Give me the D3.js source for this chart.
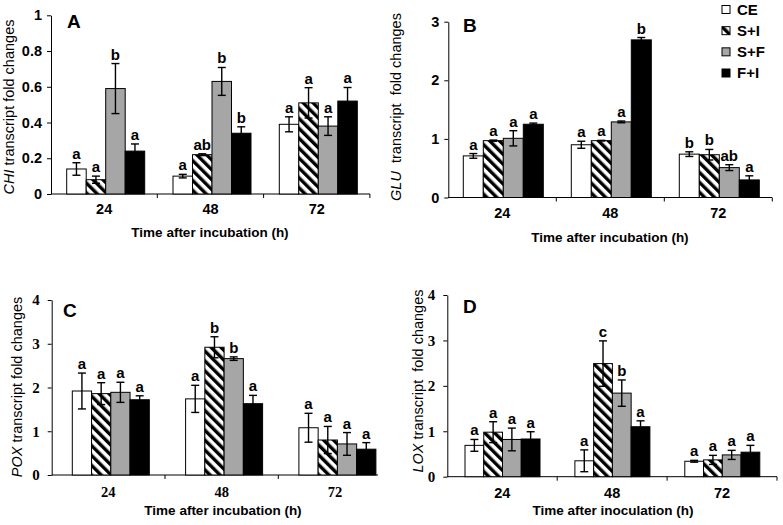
<!DOCTYPE html>
<html><head><meta charset="utf-8">
<script src="https://cdn.jsdelivr.net/npm/d3@7/dist/d3.min.js"></script>
<style>body{margin:0;background:#fff} svg{display:block}</style>
</head><body><svg id="chart" width="783" height="525"></svg>
<script>
// ---------- DATA ----------
const categories = ["24", "48", "72"];
const seriesNames = ["CE", "S+I", "S+F", "F+I"];

// Panel A: CHI (rows = series, cols = categories)
const chiValues  = [[0.14, 0.10, 0.39], [0.08, 0.22, 0.51], [0.59, 0.63, 0.38], [0.24, 0.34, 0.52]];
const chiErrors  = [[0.035, 0.01, 0.042], [0.02, 0.005, 0.085], [0.14, 0.078, 0.052], [0.04, 0.036, 0.076]];
const chiLetters = [["a", "a", "a"], ["a", "ab", "a"], ["b", "b", "a"], ["a", "b", "a"]];
const chiTicks = [0, 0.2, 0.4, 0.6, 0.8, 1];

// Panel B: GLU
const gluValues  = [[0.71, 0.90, 0.74], [0.97, 0.97, 0.73], [1.01, 1.29, 0.51], [1.25, 2.69, 0.30]];
const gluErrors  = [[0.04, 0.06, 0.04], [0.01, 0.005, 0.09], [0.13, 0.015, 0.05], [0.02, 0.04, 0.07]];
const gluLetters = [["a", "a", "b"], ["a", "a", "b"], ["a", "a", "ab"], ["a", "b", "a"]];
const gluTicks = [0, 1, 2, 3];

// Panel C: POX
const poxValues  = [[1.92, 1.74, 1.08], [1.86, 2.92, 0.80], [1.89, 2.66, 0.71], [1.72, 1.63, 0.59]];
const poxErrors  = [[0.41, 0.31, 0.33], [0.25, 0.24, 0.31], [0.23, 0.04, 0.26], [0.09, 0.19, 0.15]];
const poxLetters = [["a", "a", "a"], ["a", "b", "a"], ["a", "b", "a"], ["a", "a", "a"]];
const poxTicks = [0, 1, 2, 3, 4];

// Panel D: LOX
const loxValues  = [[0.69, 0.35, 0.34], [0.98, 2.49, 0.37], [0.82, 1.84, 0.48], [0.83, 1.10, 0.54]];
const loxErrors  = [[0.13, 0.24, 0.02], [0.23, 0.50, 0.10], [0.25, 0.29, 0.10], [0.16, 0.13, 0.15]];
const loxLetters = [["a", "a", "a"], ["a", "c", "a"], ["a", "b", "a"], ["a", "a", "a"]];
const loxTicks = [0, 1, 2, 3, 4];

// ---------- DRAW ----------
const SANS = "'Liberation Sans', Arial, sans-serif";
const SERIF = "'Liberation Serif', 'Times New Roman', serif";
const svg = d3.select("#chart");
const defs = svg.append("defs");
const pat = defs.append("pattern").attr("id", "hatch").attr("patternUnits", "userSpaceOnUse")
  .attr("width", 7).attr("height", 7).attr("patternTransform", "rotate(-45)");
pat.append("rect").attr("width", 7).attr("height", 7).attr("fill", "#fff");
pat.append("rect").attr("width", 3.4).attr("height", 7).attr("fill", "#000");

const fills = ["#ffffff", "url(#hatch)", "#a6a6a6", "#000000"];

function drawPanel(p) {
  const g = svg.append("g");
  const x = d3.scaleBand().domain(categories).range([p.left, p.left + 3 * p.band]);
  const xs = d3.scaleBand().domain(seriesNames).range([p.offset, p.offset + 4 * p.barW]);
  const y = d3.scaleLinear().domain([0, p.yMax]).range([p.bottom, p.top]);

  // y axis
  const ya = g.append("g").attr("transform", `translate(${p.left},0)`)
    .call(d3.axisLeft(y).tickValues(p.ticks).tickSizeInner(4).tickSizeOuter(0).tickPadding(p.yPad)
      .tickFormat(p.fmt));
  ya.select(".domain").attr("stroke", "#000").attr("stroke-width", 1);
  ya.selectAll(".tick line").attr("stroke", "#000");
  ya.selectAll(".tick text").attr("font-family", p.yFont).attr("font-weight", "bold")
    .attr("font-size", p.yFontSize).attr("fill", "#000");

  // x axis (labels)
  const xa = g.append("g").attr("transform", `translate(0,${p.bottom})`)
    .call(d3.axisBottom(x).tickSize(0).tickPadding(p.xPad));
  xa.select(".domain").remove();
  xa.selectAll(".tick text").attr("font-family", p.xFont).attr("font-weight", "bold")
    .attr("font-size", p.xFontSize).attr("fill", "#000");
  g.append("line").attr("x1", p.left).attr("x2", p.axisEnd).attr("y1", p.bottom).attr("y2", p.bottom)
    .attr("stroke", "#000").attr("stroke-width", 1);
  categories.forEach((c, i) => {
    const sx = x(c) + x.bandwidth();
    if (sx <= p.axisEnd + 1) {
      g.append("line").attr("x1", sx).attr("x2", sx).attr("y1", p.bottom).attr("y2", p.bottom + 4)
        .attr("stroke", "#000");
    }
  });

  // bars
  seriesNames.forEach((s, si) => {
    categories.forEach((c, ci) => {
      const v = p.values[si][ci], e = p.errors[si][ci];
      const bx = x(c) + xs(s), bw = xs.bandwidth();
      g.append("rect").attr("x", bx).attr("y", y(v)).attr("width", bw).attr("height", y(0) - y(v))
        .attr("fill", fills[si]).attr("stroke", "#000").attr("stroke-width", 1);
      const cx = bx + bw / 2;
      g.append("line").attr("x1", cx).attr("x2", cx).attr("y1", y(v + e)).attr("y2", y(Math.max(0, v - e)))
        .attr("stroke", "#000").attr("stroke-width", 1.4);
      [v + e, Math.max(0, v - e)].forEach(t => {
        g.append("line").attr("x1", cx - 4).attr("x2", cx + 4).attr("y1", y(t)).attr("y2", y(t))
          .attr("stroke", "#000").attr("stroke-width", 1.4);
      });
      g.append("text").attr("x", cx).attr("y", y(v + e) - 4).attr("text-anchor", "middle")
        .attr("font-family", SANS).attr("font-weight", "bold").attr("font-size", 15)
        .text(p.letters[si][ci]);
    });
  });

  // panel letter
  g.append("text").attr("x", p.letterX).attr("y", p.letterY).attr("font-family", SANS)
    .attr("font-weight", "bold").attr("font-size", 19).text(p.letter);

  // x title
  g.append("text").attr("x", p.xTitleX).attr("y", p.xTitleY).attr("text-anchor", "middle")
    .attr("font-family", SANS).attr("font-weight", "bold").attr("font-size", 13.5)
    .text(p.xTitle);

  // y title
  const yt = g.append("text").attr("transform", `translate(${p.yTitleX},${p.yTitleY}) rotate(-90)`)
    .attr("text-anchor", "middle").attr("font-family", SANS).attr("font-size", 14.5)
    .style("white-space", "pre");
  yt.append("tspan").attr("font-style", "italic").text(p.gene);
  yt.append("tspan").text(p.yTitleRest);
}

const fmtA = d => d === 0 ? "0" : (d === 1 ? "1" : d3.format(".1f")(d));
const fmtI = d3.format("d");

drawPanel({ left: 51, band: 106.3, offset: 15.7, barW: 19.5, axisEnd: 370, top: 15.3, bottom: 194, yMax: 1,
  ticks: chiTicks, fmt: fmtA, yPad: 5, yFont: SANS, yFontSize: 14.5, xFont: SANS, xFontSize: 14.5, xPad: 10,
  values: chiValues, errors: chiErrors, letters: chiLetters,
  letter: "A", letterX: 67, letterY: 28, xTitle: "Time after incubation (h)", xTitleX: 210, xTitleY: 237,
  gene: "CHI", yTitleRest: " transcript fold changes", yTitleX: 14, yTitleY: 107 });

drawPanel({ left: 448.3, band: 108, offset: 15, barW: 20, axisEnd: 772, top: 21.7, bottom: 197.5, yMax: 3,
  ticks: gluTicks, fmt: fmtI, yPad: 5, yFont: SANS, yFontSize: 14.5, xFont: SANS, xFontSize: 14.5, xPad: 10,
  values: gluValues, errors: gluErrors, letters: gluLetters,
  letter: "B", letterX: 463, letterY: 32, xTitle: "Time after incubation (h)", xTitleX: 610, xTitleY: 242,
  gene: "GLU", yTitleRest: "  transcript  fold changes", yTitleX: 401, yTitleY: 107 });

drawPanel({ left: 51.7, band: 113.3, offset: 20.6, barW: 19.25, axisEnd: 378, top: 300, bottom: 475, yMax: 4,
  ticks: poxTicks, fmt: fmtI, yPad: 8, yFont: SERIF, yFontSize: 15, xFont: SERIF, xFontSize: 14.5, xPad: 12,
  values: poxValues, errors: poxErrors, letters: poxLetters,
  letter: "C", letterX: 63, letterY: 317, xTitle: "Time after incubation (h)", xTitleX: 223, xTitleY: 515,
  gene: "POX", yTitleRest: " transcript fold changes", yTitleX: 22, yTitleY: 387 });

drawPanel({ left: 447.3, band: 109.9, offset: 17.7, barW: 18.75, axisEnd: 777, top: 295, bottom: 476.7, yMax: 4,
  ticks: loxTicks, fmt: fmtI, yPad: 8, yFont: SERIF, yFontSize: 15, xFont: SANS, xFontSize: 14.5, xPad: 11,
  values: loxValues, errors: loxErrors, letters: loxLetters,
  letter: "D", letterX: 463, letterY: 313, xTitle: "Time after inoculation (h)", xTitleX: 613, xTitleY: 515,
  gene: "LOX", yTitleRest: " transcript  fold changes", yTitleX: 423, yTitleY: 381 });

// legend
const legendY = d3.scalePoint().domain(seriesNames).range([9.5, 73]);
const lg = svg.append("g");
seriesNames.forEach((s, i) => {
  lg.append("rect").attr("x", 722).attr("y", legendY(s) - 4).attr("width", 8).attr("height", 8)
    .attr("fill", fills[i]).attr("stroke", "#000").attr("stroke-width", 1);
  lg.append("text").attr("x", 737).attr("y", legendY(s)).attr("dy", "0.36em")
    .attr("font-family", SANS).attr("font-weight", "bold").attr("font-size", 15).text(s);
});
</script>
</body></html>
